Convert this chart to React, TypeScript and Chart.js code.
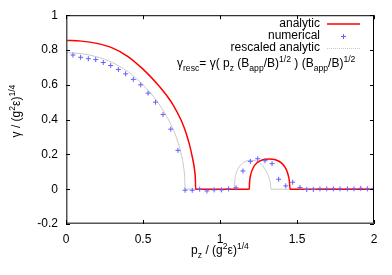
import React, { useEffect, useRef } from "react";
import { Chart, registerables } from "chart.js";
Chart.register(...registerables);

const analyticX = [0, 0.1, 0.2, 0.3, 0.4, 0.5, 0.6, 0.65, 0.7, 0.75, 0.78, 0.8, 0.82, 0.835, 0.84, 0.842, 1.19, 1.192, 1.2, 1.215, 1.24, 1.28, 1.32, 1.36, 1.40, 1.425, 1.44, 1.45, 1.455, 2];
const analyticY = [0.855, 0.851, 0.838, 0.812, 0.764, 0.69, 0.598, 0.543, 0.478, 0.392, 0.322, 0.262, 0.186, 0.11, 0.06, 0, 0, 0.04, 0.085, 0.122, 0.152, 0.17, 0.174, 0.169, 0.15, 0.122, 0.09, 0.05, 0, 0];

const rescaledX = [0, 0.1, 0.2, 0.3, 0.4, 0.5, 0.55, 0.6, 0.65, 0.7, 0.73, 0.75, 0.765, 0.771, 0.773, 1.093, 1.096, 1.105, 1.125, 1.155, 1.19, 1.215, 1.245, 1.275, 1.305, 1.32, 1.328, 1.331, 2];
const rescaledY = [0.785, 0.779, 0.761, 0.728, 0.677, 0.6, 0.552, 0.495, 0.424, 0.335, 0.262, 0.195, 0.12, 0.06, 0, 0, 0.05, 0.09, 0.128, 0.155, 0.165, 0.166, 0.158, 0.136, 0.095, 0.06, 0.03, 0, 0];

const numericalX = [0.045, 0.095, 0.145, 0.193, 0.242, 0.29, 0.34, 0.387, 0.437, 0.485, 0.533, 0.581, 0.63, 0.68, 0.727, 0.773, 0.82, 0.868, 0.915, 0.962, 1.009, 1.056, 1.104, 1.149, 1.197, 1.245, 1.292, 1.338, 1.381, 1.427, 1.472, 1.519, 1.563, 1.606, 1.649, 1.693, 1.736, 1.779, 1.827, 1.87, 1.914, 1.957, 1.996];
const numericalY = [0.771, 0.758, 0.75, 0.745, 0.728, 0.711, 0.688, 0.663, 0.631, 0.6, 0.552, 0.5, 0.429, 0.345, 0.223, -0.006, -0.006, 0.0, -0.01, -0.004, -0.004, 0.002, 0.008, 0.105, 0.16, 0.175, 0.164, 0.147, 0.057, 0.019, 0.04, 0.01, -0.002, -0.002, 0.002, 0.002, 0.002, 0.002, 0.002, 0.002, 0.005, 0.002, 0.002];

const xTicks = [0, 0.5, 1, 1.5, 2];
const yTicks = [-0.2, 0, 0.2, 0.4, 0.6, 0.8, 1];
const legendLabels = ["analytic", "numerical", "rescaled analytic"];

const FONT = "'Liberation Sans', Arial, sans-serif";

type Seg = { t: string; k?: "sup" | "sub" };

function richWidth(ctx: CanvasRenderingContext2D, segs: Seg[], size: number) {
  let w = 0;
  for (const s of segs) {
    const sz = s.k ? size * 0.72 : size;
    ctx.font = `${sz}px ${FONT}`;
    w += ctx.measureText(s.t).width;
  }
  return w;
}

function drawRich(ctx: CanvasRenderingContext2D, segs: Seg[], x: number, y: number, size: number, align: "left" | "center") {
  const w = richWidth(ctx, segs, size);
  let cx = align === "center" ? x - w / 2 : x;
  ctx.textAlign = "left";
  ctx.textBaseline = "alphabetic";
  for (const s of segs) {
    const sz = s.k ? size * 0.72 : size;
    ctx.font = `${sz}px ${FONT}`;
    const dy = s.k === "sup" ? -size * 0.45 : s.k === "sub" ? size * 0.3 : 0;
    ctx.fillText(s.t, cx, y + dy);
    cx += ctx.measureText(s.t).width;
  }
}

const decor = {
  id: "decor",
  afterDraw(chart: any) {
    const ctx: CanvasRenderingContext2D = chart.ctx;
    const a = chart.chartArea;
    const xs = chart.scales.x;
    const ys = chart.scales.y;
    ctx.save();
    // border
    ctx.strokeStyle = "#000";
    ctx.lineWidth = 1;
    ctx.strokeRect(a.left + 0.5, a.top + 0.5, a.right - a.left - 1, a.bottom - a.top - 1);
    ctx.strokeStyle = "#555";
    ctx.lineWidth = 1.5;
    ctx.beginPath();
    ctx.moveTo(a.left + 0.75, a.top);
    ctx.lineTo(a.left + 0.75, a.bottom - 0.75);
    ctx.lineTo(a.right, a.bottom - 0.75);
    ctx.stroke();
    // ticks
    ctx.strokeStyle = "#000";
    ctx.lineWidth = 1;
    ctx.beginPath();
    for (const v of xTicks) {
      const px = Math.round(xs.getPixelForValue(v)) + 0.5;
      ctx.moveTo(px, a.bottom);
      ctx.lineTo(px, a.bottom - 4);
      ctx.moveTo(px, a.top);
      ctx.lineTo(px, a.top + 4);
    }
    for (const v of yTicks) {
      const py = Math.round(ys.getPixelForValue(v)) + 0.5;
      ctx.moveTo(a.left, py);
      ctx.lineTo(a.left + 4, py);
      ctx.moveTo(a.right, py);
      ctx.lineTo(a.right - 4, py);
    }
    ctx.stroke();
    // legend
    ctx.fillStyle = "#000";
    ctx.font = `12px ${FONT}`;
    ctx.textAlign = "right";
    ctx.textBaseline = "middle";
    const ly = [24, 36, 48];
    legendLabels.forEach((l, i) => ctx.fillText(l, 320, ly[i]));
    ctx.strokeStyle = "#ff0000";
    ctx.lineWidth = 1.5;
    ctx.beginPath();
    ctx.moveTo(327, ly[0]);
    ctx.lineTo(360, ly[0]);
    ctx.stroke();
    ctx.strokeStyle = "#6060ff";
    ctx.lineWidth = 1;
    ctx.beginPath();
    ctx.moveTo(341, ly[1] + 0.5);
    ctx.lineTo(346, ly[1] + 0.5);
    ctx.moveTo(343.5, ly[1] - 2);
    ctx.lineTo(343.5, ly[1] + 3);
    ctx.stroke();
    ctx.strokeStyle = "#c8c8c8";
    ctx.setLineDash([1, 1]);
    ctx.beginPath();
    ctx.moveTo(327, ly[2] + 0.5);
    ctx.lineTo(360, ly[2] + 0.5);
    ctx.stroke();
    ctx.setLineDash([]);
    // formula
    ctx.fillStyle = "#000";
    drawRich(ctx, [
      { t: "γ" }, { t: "resc", k: "sub" }, { t: "= γ( p" }, { t: "z", k: "sub" },
      { t: " (B" }, { t: "app", k: "sub" }, { t: "/B)" }, { t: "1/2", k: "sup" },
      { t: " ) (B" }, { t: "app", k: "sub" }, { t: "/B)" }, { t: "1/2", k: "sup" },
    ], 177, 67, 12, "left");
    // x title
    drawRich(ctx, [
      { t: "p" }, { t: "z", k: "sub" }, { t: " / (g" }, { t: "2", k: "sup" }, { t: "ε)" }, { t: "1/4", k: "sup" },
    ], (a.left + a.right) / 2, 254, 12, "center");
    // y title
    ctx.translate(20, 111);
    ctx.rotate(-Math.PI / 2);
    drawRich(ctx, [
      { t: "γ / (g" }, { t: "2", k: "sup" }, { t: "ε)" }, { t: "1/4", k: "sup" },
    ], 0, 0, 12, "center");
    ctx.restore();
  },
};

export default function App() {
  const ref = useRef<HTMLCanvasElement>(null);
  useEffect(() => {
    const toPts = (xs: number[], ys: number[]) => xs.map((x, i) => ({ x, y: ys[i] }));
    const chart = new Chart(ref.current!, {
      type: "scatter",
      data: {
        datasets: [
          {
            label: legendLabels[2],
            data: toPts(rescaledX, rescaledY),
            showLine: true,
            borderColor: "#c8c8c8",
            borderWidth: 1,
            pointRadius: 0,
            cubicInterpolationMode: "monotone",
            order: 3,
          },
          {
            label: legendLabels[0],
            data: toPts(analyticX, analyticY),
            showLine: true,
            borderColor: "#ff0000",
            borderWidth: 1.5,
            pointRadius: 0,
            cubicInterpolationMode: "monotone",
            order: 2,
          },
          {
            label: legendLabels[1],
            data: toPts(numericalX, numericalY),
            showLine: false,
            pointStyle: "cross",
            pointRadius: 2.5,
            borderColor: "#6060ff",
            backgroundColor: "#6060ff",
            borderWidth: 1,
            order: 1,
          },
        ],
      },
      options: {
        animation: false,
        responsive: false,
        devicePixelRatio: 1,
        layout: { padding: { top: 14, right: 18, left: 0, bottom: 0 } },
        plugins: { legend: { display: false }, tooltip: { enabled: false } },
        scales: {
          x: {
            type: "linear",
            min: 0,
            max: 2,
            afterBuildTicks: (s: any) => { s.ticks = xTicks.map((v) => ({ value: v })); },
            afterFit: (s: any) => { s.height = 51; },
            grid: { display: false, drawTicks: false },
            border: { display: false },
            ticks: {
              padding: 8,
              color: "#000",
              font: { family: FONT, size: 12 },
              callback: (v: any) => String(v),
            },
          },
          y: {
            type: "linear",
            min: -0.2,
            max: 1,
            afterBuildTicks: (s: any) => { s.ticks = yTicks.map((v) => ({ value: v })); },
            afterFit: (s: any) => { s.width = 66; },
            grid: { display: false, drawTicks: false },
            border: { display: false },
            ticks: {
              padding: 8,
              color: "#000",
              font: { family: FONT, size: 12 },
              callback: (v: any) => String(Math.round(v * 10) / 10),
            },
          },
        },
      },
      plugins: [decor],
    });
    return () => chart.destroy();
  }, []);
  return (
    <div style={{ position: "absolute", left: 0, top: 0, width: 392, height: 275, background: "#fff" }}>
      <canvas ref={ref} width={392} height={275} style={{ display: "block" }} />
    </div>
  );
}
